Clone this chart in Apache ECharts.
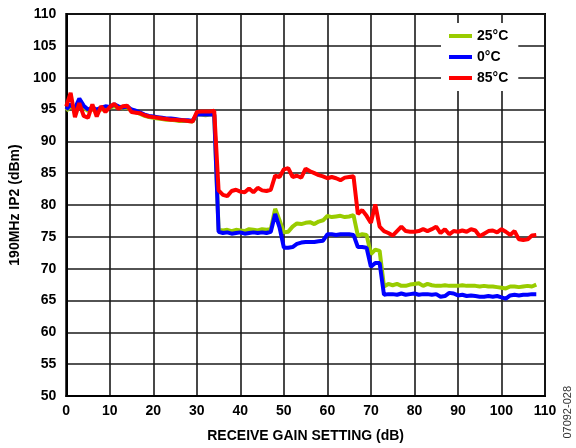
<!DOCTYPE html>
<html>
<head>
<meta charset="utf-8">
<script src="https://cdn.jsdelivr.net/npm/echarts@6/dist/echarts.min.js"></script>
<style>
  html, body { margin: 0; padding: 0; background: #fff; }
  #chart { width: 576px; height: 448px; }
</style>
</head>
<body>
<div id="chart"></div>
<script>
  // receive gain setting, dB (1 dB steps)
  const gain = [];
  for (let g = 0; g <= 108; g++) gain.push(g);

  const ip2_25C = [
    94.8, 95.5, 95.0, 95.8, 95.3, 94.8, 95.0, 94.8, 95.0, 95.2,
    95.3, 95.5, 95.3, 95.2, 95.3, 94.8, 94.6, 94.3, 94.0, 93.8,
    93.7, 93.6, 93.5, 93.4, 93.4, 93.3, 93.2, 93.2, 93.2, 93.1,
    94.2, 94.2, 94.1, 94.2, 94.2, 76.1, 76.0, 76.1, 75.9, 76.1,
    76.0, 75.9, 76.2, 76.1, 76.0, 76.2, 76.1, 76.2, 79.4, 77.6,
    75.7, 75.8, 76.6, 77.1, 77.0, 77.2, 77.3, 77.0, 77.4, 77.6,
    78.3, 78.1, 78.2, 78.3, 78.1, 78.2, 78.4, 75.2, 75.4, 75.3,
    72.3, 73.0, 72.8, 67.2, 67.6, 67.4, 67.6, 67.3, 67.3, 67.5,
    67.6, 67.7, 67.3, 67.6, 67.4, 67.3, 67.3, 67.4, 67.3, 67.3,
    67.3, 67.4, 67.3, 67.3, 67.3, 67.2, 67.3, 67.2, 67.2, 67.1,
    67.0, 66.9, 67.2, 67.2, 67.1, 67.2, 67.3, 67.2, 67.5
  ];
  const ip2_0C = [
    95.0, 95.8, 95.2, 96.7, 95.6, 95.0, 95.3, 95.0, 95.3, 95.5,
    95.4, 95.8, 95.5, 95.3, 95.5, 95.0, 94.8, 94.5, 94.2, 94.0,
    93.9, 93.8, 93.7, 93.6, 93.6, 93.5, 93.4, 93.3, 93.3, 93.2,
    94.2, 94.2, 94.2, 94.2, 94.2, 75.8, 75.6, 75.7, 75.5, 75.6,
    75.7, 75.5, 75.6, 75.7, 75.6, 75.7, 75.6, 75.8, 78.6, 76.5,
    73.3, 73.3, 73.4, 73.9, 74.1, 74.2, 74.2, 74.2, 74.3, 74.4,
    75.4, 75.4, 75.3, 75.4, 75.4, 75.4, 75.3, 73.4, 73.4, 73.3,
    70.3, 70.9, 70.9, 65.9, 66.0, 66.0, 65.9, 66.1, 65.9, 66.0,
    66.1, 65.9, 66.0, 66.0, 65.9, 66.0, 65.6, 65.7, 66.2, 66.1,
    65.8, 65.9, 65.7, 65.8, 65.7, 65.6, 65.6, 65.7, 65.6, 65.7,
    65.5, 65.3, 65.8, 65.9, 65.8, 65.9, 65.9, 66.0, 66.0
  ];
  const ip2_85C = [
    95.5, 97.6, 93.8, 96.0, 94.0, 93.7, 95.8, 93.9, 95.5, 94.6,
    95.4, 95.9, 95.1, 95.5, 95.6, 94.6, 94.5, 94.4, 94.1, 93.9,
    93.8, 93.7, 93.6, 93.5, 93.4, 93.4, 93.3, 93.3, 93.2, 93.1,
    94.6, 94.7, 94.7, 94.7, 94.8, 82.3, 81.6, 81.4, 82.2, 82.4,
    82.1, 82.0, 82.6, 82.0, 82.7, 82.3, 82.2, 82.4, 84.6, 84.4,
    85.6, 85.8, 84.4, 84.6, 84.3, 85.7, 85.3, 85.0, 84.7, 84.5,
    84.2, 84.4, 84.2, 83.9, 84.3, 84.4, 84.5, 78.6, 79.2, 78.3,
    77.2, 80.1, 76.6, 75.9, 75.6, 75.2, 75.9, 76.6, 75.9, 75.8,
    75.8, 75.9, 76.2, 75.9, 76.2, 76.6, 75.6, 76.2, 75.4, 75.9,
    75.8, 76.0, 75.8, 76.2, 76.0, 75.1, 75.5, 75.9, 76.0, 75.7,
    76.2, 75.8, 75.3, 75.9, 74.6, 74.5, 74.6, 75.2, 75.3
  ];

  const seriesNames = ['25°C', '0°C', '85°C'];
  const seriesColors = ['#99CC00', '#0000FF', '#FF0000'];
  const seriesValues = [ip2_25C, ip2_0C, ip2_85C];

  const font = '"Liberation Sans", Arial, Helvetica, sans-serif';

  let myChart = echarts.init(document.getElementById('chart'), null, {renderer: 'canvas'});
  myChart.setOption({
    animation: false,
    backgroundColor: '#fff',
    grid: {
      left: 65,
      right: 31,
      top: 14,
      bottom: 51,
      show: true,
      borderColor: '#000',
      borderWidth: 2
    },
    legend: {
      orient: 'vertical',
      left: 441,
      top: 23,
      backgroundColor: '#fff',
      padding: [5, 10, 5, 8],
      icon: 'rect',
      itemWidth: 23,
      itemHeight: 4,
      itemGap: 5,
      textStyle: {
        fontFamily: font,
        fontWeight: 'bold',
        fontSize: 14,
        lineHeight: 16,
        color: '#000'
      },
      data: seriesNames
    },
    xAxis: {
      type: 'value',
      min: 0,
      max: 110,
      interval: 10,
      name: 'RECEIVE GAIN SETTING (dB)',
      nameLocation: 'middle',
      nameGap: 33,
      nameTextStyle: {fontFamily: font, fontWeight: 'bold', fontSize: 14, color: '#000'},
      axisLine: {show: true, lineStyle: {color: '#000', width: 2}},
      axisTick: {show: false},
      axisLabel: {margin: 8, fontFamily: font, fontWeight: 'bold', fontSize: 14, color: '#000'},
      splitLine: {show: true, lineStyle: {color: '#1a1a1a', width: 1.6}}
    },
    yAxis: {
      type: 'value',
      min: 50,
      max: 110,
      interval: 5,
      name: '190MHz IP2 (dBm)',
      nameLocation: 'middle',
      nameGap: 37,
      nameTextStyle: {fontFamily: font, fontWeight: 'bold', fontSize: 14, color: '#000'},
      axisLine: {show: true, lineStyle: {color: '#000', width: 2}},
      axisTick: {show: false},
      axisLabel: {margin: 10, fontFamily: font, fontWeight: 'bold', fontSize: 14, color: '#000'},
      splitLine: {show: true, lineStyle: {color: '#1a1a1a', width: 1.6}}
    },
    graphic: [{
      type: 'text',
      left: 562,
      top: 386,
      rotation: Math.PI / 2,
      style: {
        text: '07092-028',
        fontFamily: font,
        fontSize: 11,
        fill: '#333'
      }
    }],
    series: seriesValues.map((vals, i) => ({
      name: seriesNames[i],
      type: 'line',
      showSymbol: false,
      color: seriesColors[i],
      lineStyle: {width: 4, color: seriesColors[i]},
      data: gain.map((g, k) => [g, vals[k]])
    }))
  });
</script>
</body>
</html>
